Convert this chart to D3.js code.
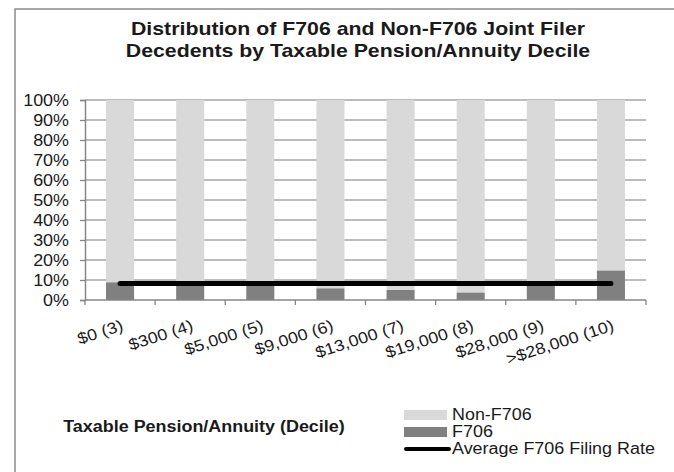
<!DOCTYPE html>
<html>
<head>
<meta charset="utf-8">
<script src="https://cdnjs.cloudflare.com/ajax/libs/d3/7.8.5/d3.min.js"></script>
<style>
body{margin:0;background:#fff;}
text{font-family:"Liberation Sans",Arial,sans-serif;fill:#1a1a1a;}
</style>
</head>
<body>
<script>
var categories = ['$0 (3)','$300 (4)','$5,000 (5)','$9,000 (6)','$13,000 (7)','$19,000 (8)','$28,000 (9)','>$28,000 (10)'];
var f706 = [8.8, 9.0, 9.2, 5.8, 5.0, 3.7, 8.6, 14.7];
var nonF706 = f706.map(function(d){return 100-d;});
var avgRate = 8.3;
var yTicks = [0,10,20,30,40,50,60,70,80,90,100];
var titleLines = ['Distribution of F706 and Non-F706 Joint Filer','Decedents by Taxable Pension/Annuity Decile'];
var legendItems = ['Non-F706','F706','Average F706 Filing Rate'];

var width = 674, height = 472;
var plot = {left:85, right:646, top:100, bottom:300};
var stretch = 1.12; //text in the picture is a bit wider than plain Arial

var svg = d3.select('body').append('svg').attr('width',width).attr('height',height);

//Chart area border
svg.append('rect').attr('x',15).attr('y',9).attr('width',700).attr('height',500)
	.attr('fill','#fff').attr('stroke','#8c8c8c').attr('stroke-width',1.5);

//Title
svg.append('g').selectAll('text').data(titleLines).enter()
	.append('text')
	.attr('x',358)
	.attr('y',function(d,i){return 35+i*22;})
	.attr('text-anchor','middle')
	.style('font-weight','bold')
	.style('font-size','19px')
	.text(function(d){return d;});

var xScale = d3.scaleBand().domain(categories).range([plot.left,plot.right]).padding(0);
var yScale = d3.scaleLinear().domain([0,100]).range([plot.bottom,plot.top]);
var barW = xScale.bandwidth()*0.4;

//Gridlines
svg.append('g').selectAll('line').data(yTicks.filter(function(d){return d>0;})).enter()
	.append('line')
	.attr('x1',plot.left).attr('x2',plot.right)
	.attr('y1',function(d){return yScale(d);}).attr('y2',function(d){return yScale(d);})
	.attr('stroke','#a6a6a6').attr('stroke-width',1.3);

//Bars
var barsG = svg.append('g');
barsG.selectAll('rect.non').data(categories).enter()
	.append('rect').attr('class','non')
	.attr('x',function(d){return xScale(d)+(xScale.bandwidth()-barW)/2;})
	.attr('width',barW)
	.attr('y',function(d,i){return yScale(f706[i]+nonF706[i]);})
	.attr('height',function(d,i){return yScale(f706[i])-yScale(f706[i]+nonF706[i]);})
	.attr('fill','#d9d9d9');
barsG.selectAll('rect.f706').data(categories).enter()
	.append('rect').attr('class','f706')
	.attr('x',function(d){return xScale(d)+(xScale.bandwidth()-barW)/2;})
	.attr('width',barW)
	.attr('y',function(d,i){return yScale(f706[i]);})
	.attr('height',function(d,i){return yScale(0)-yScale(f706[i]);})
	.attr('fill','#808080');

//Y axis
var yAxis = d3.axisLeft(yScale).tickValues(yTicks).tickSize(5).tickPadding(11).tickFormat(function(d){return d+'%';});
var yAxisG = svg.append('g').attr('transform','translate('+plot.left+',0)').call(yAxis);
yAxisG.select('.domain').attr('stroke','#868686').attr('stroke-width',1.5);
yAxisG.selectAll('.tick line').attr('stroke','#868686').attr('stroke-width',1.3);
yAxisG.selectAll('.tick text').style('font-size','16px').style('font-family','"Liberation Sans",Arial,sans-serif').attr('fill','#1a1a1a').attr('dy','0.36em');

//X axis
var xAxisG = svg.append('g').attr('transform','translate(0,'+plot.bottom+')');
xAxisG.append('line').attr('x1',plot.left).attr('x2',plot.right).attr('y1',0).attr('y2',0)
	.attr('stroke','#868686').attr('stroke-width',1.5);
var bounds = categories.map(function(d){return xScale(d);}).concat([plot.right]);
xAxisG.selectAll('line.tick').data(bounds).enter()
	.append('line').attr('class','tick')
	.attr('x1',function(d){return d;}).attr('x2',function(d){return d;})
	.attr('y1',0).attr('y2',5)
	.attr('stroke','#868686').attr('stroke-width',1.3);
xAxisG.selectAll('text').data(categories).enter()
	.append('text')
	.attr('text-anchor','end')
	.style('font-size','16px')
	.attr('transform',function(d){return 'translate('+(xScale(d)+xScale.bandwidth()/2+4)+',30) rotate(-18)';})
	.text(function(d){return d;});

//Average line
svg.append('line')
	.attr('x1',xScale(categories[0])+xScale.bandwidth()/2)
	.attr('x2',xScale(categories[categories.length-1])+xScale.bandwidth()/2)
	.attr('y1',yScale(avgRate)).attr('y2',yScale(avgRate))
	.attr('stroke','#000').attr('stroke-width',5).attr('stroke-linecap','round');

//Axis title
svg.append('text').attr('x',204).attr('y',432).attr('text-anchor','middle')
	.style('font-weight','bold').style('font-size','16px')
	.text('Taxable Pension/Annuity (Decile)');

//Legend
var legendG = svg.append('g').attr('transform','translate(404,0)');
legendG.append('rect').attr('x',0).attr('y',410).attr('width',43).attr('height',10).attr('fill','#d9d9d9');
legendG.append('rect').attr('x',0).attr('y',427).attr('width',43).attr('height',10).attr('fill','#808080');
legendG.append('line').attr('x1',2).attr('x2',45).attr('y1',449).attr('y2',449)
	.attr('stroke','#000').attr('stroke-width',4).attr('stroke-linecap','round');
legendG.selectAll('text').data(legendItems).enter()
	.append('text')
	.attr('x',48)
	.attr('y',function(d,i){return 420+i*17;})
	.style('font-size','16px')
	.text(function(d){return d;});

//Widen all text a little
svg.selectAll('text').each(function(){
	var len = this.getComputedTextLength();
	d3.select(this).attr('textLength',len*stretch).attr('lengthAdjust','spacingAndGlyphs');
});
</script>
</body>
</html>
